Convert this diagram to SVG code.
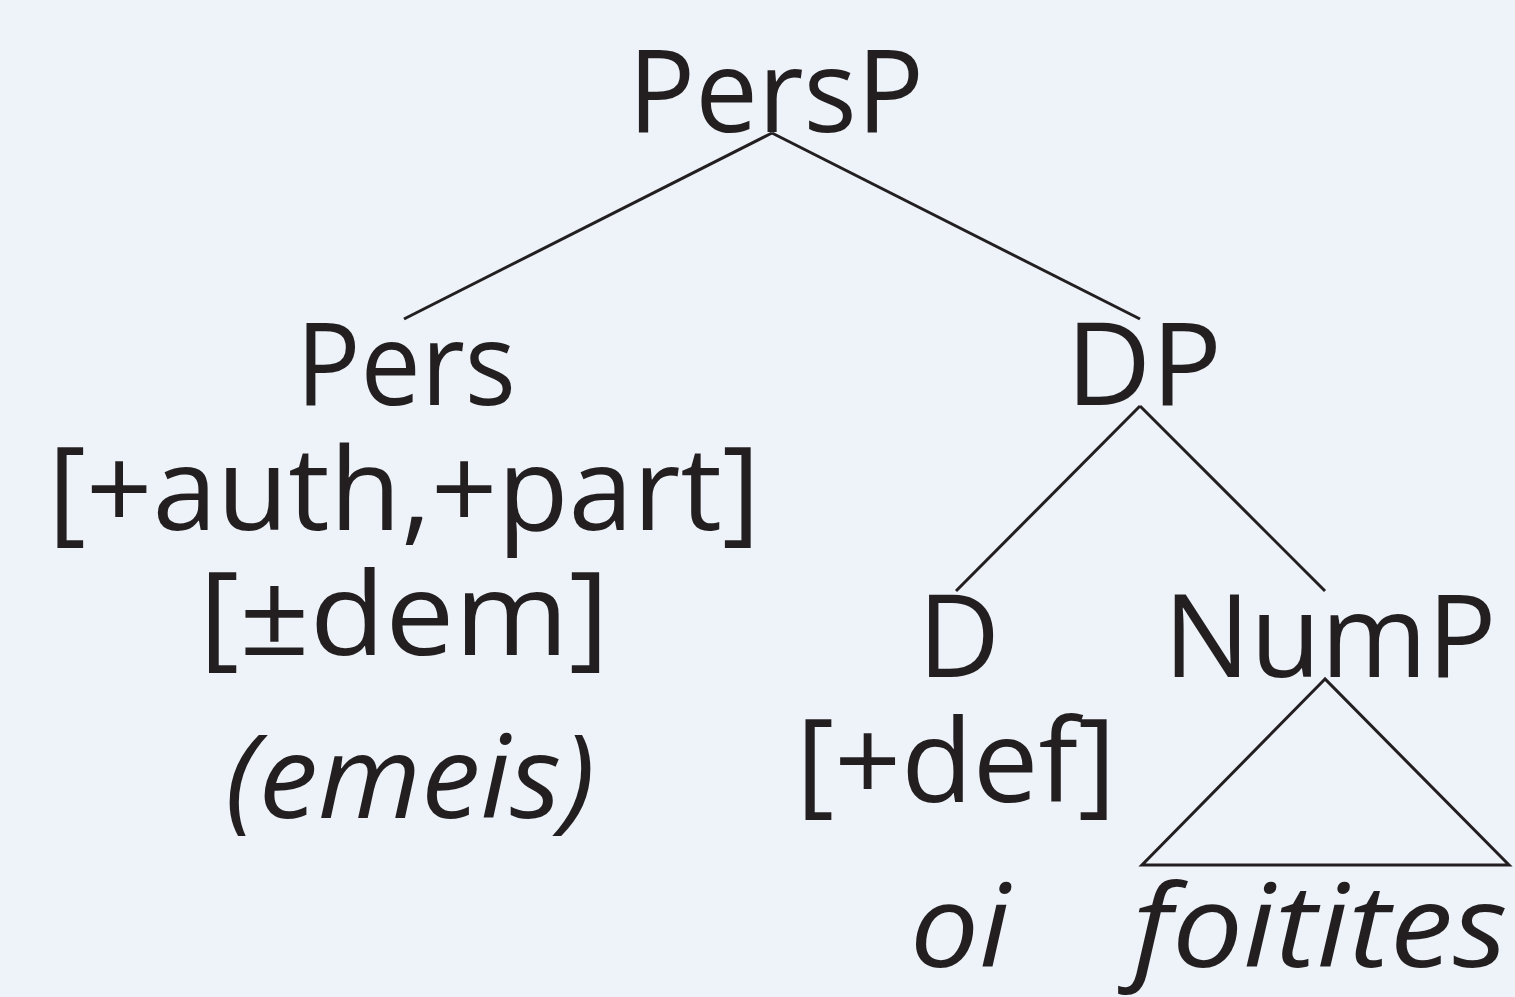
<svg xmlns="http://www.w3.org/2000/svg" width="1515" height="997" viewBox="0 0 1515 997">
<style>
.t{font-family:"Open Sans","Noto Sans","DejaVu Sans",sans-serif;font-size:116px;fill:#231F20;text-anchor:middle}
.i{font-style:italic}
.e{stroke:#231F20;stroke-width:3;fill:none;stroke-linecap:butt}
</style>
<rect width="1515" height="997" fill="#EEF3FA"/>
<g id="connectors">
<line class="e" x1="772" y1="133" x2="404" y2="319"/>
<line class="e" x1="772" y1="133" x2="1140" y2="319"/>
<line class="e" x1="1140" y1="406" x2="956" y2="591"/>
<line class="e" x1="1140" y1="406" x2="1325" y2="591"/>
<polygon class="e" points="1325,679 1142,865 1509,865"/>
</g>
<g id="PersP"><text class="t" x="776" y="132" textLength="296" lengthAdjust="spacingAndGlyphs">PersP</text></g>
<g id="Pers">
<text class="t" x="406" y="405" textLength="220" lengthAdjust="spacingAndGlyphs">Pers</text>
<text class="t" x="404" y="530" textLength="712" lengthAdjust="spacingAndGlyphs">[+auth,+part]</text>
<text class="t" x="404" y="655" textLength="410" lengthAdjust="spacingAndGlyphs">[±dem]</text>
<text class="t i" x="410" y="818" textLength="370" lengthAdjust="spacingAndGlyphs">(emeis)</text>
</g>
<g id="DP"><text class="t" x="1144" y="405" textLength="156" lengthAdjust="spacingAndGlyphs">DP</text></g>
<g id="D">
<text class="t" x="959" y="677" textLength="82" lengthAdjust="spacingAndGlyphs">D</text>
<text class="t" x="956" y="802" textLength="320" lengthAdjust="spacingAndGlyphs">[+def]</text>
<text class="t i" x="960" y="967" textLength="100" lengthAdjust="spacingAndGlyphs">oi</text>
</g>
<g id="NumP">
<text class="t" x="1330" y="677" textLength="333" lengthAdjust="spacingAndGlyphs">NumP</text>
<text class="t i" x="1320" y="967" textLength="375" lengthAdjust="spacingAndGlyphs">foitites</text>
</g>
</svg>
